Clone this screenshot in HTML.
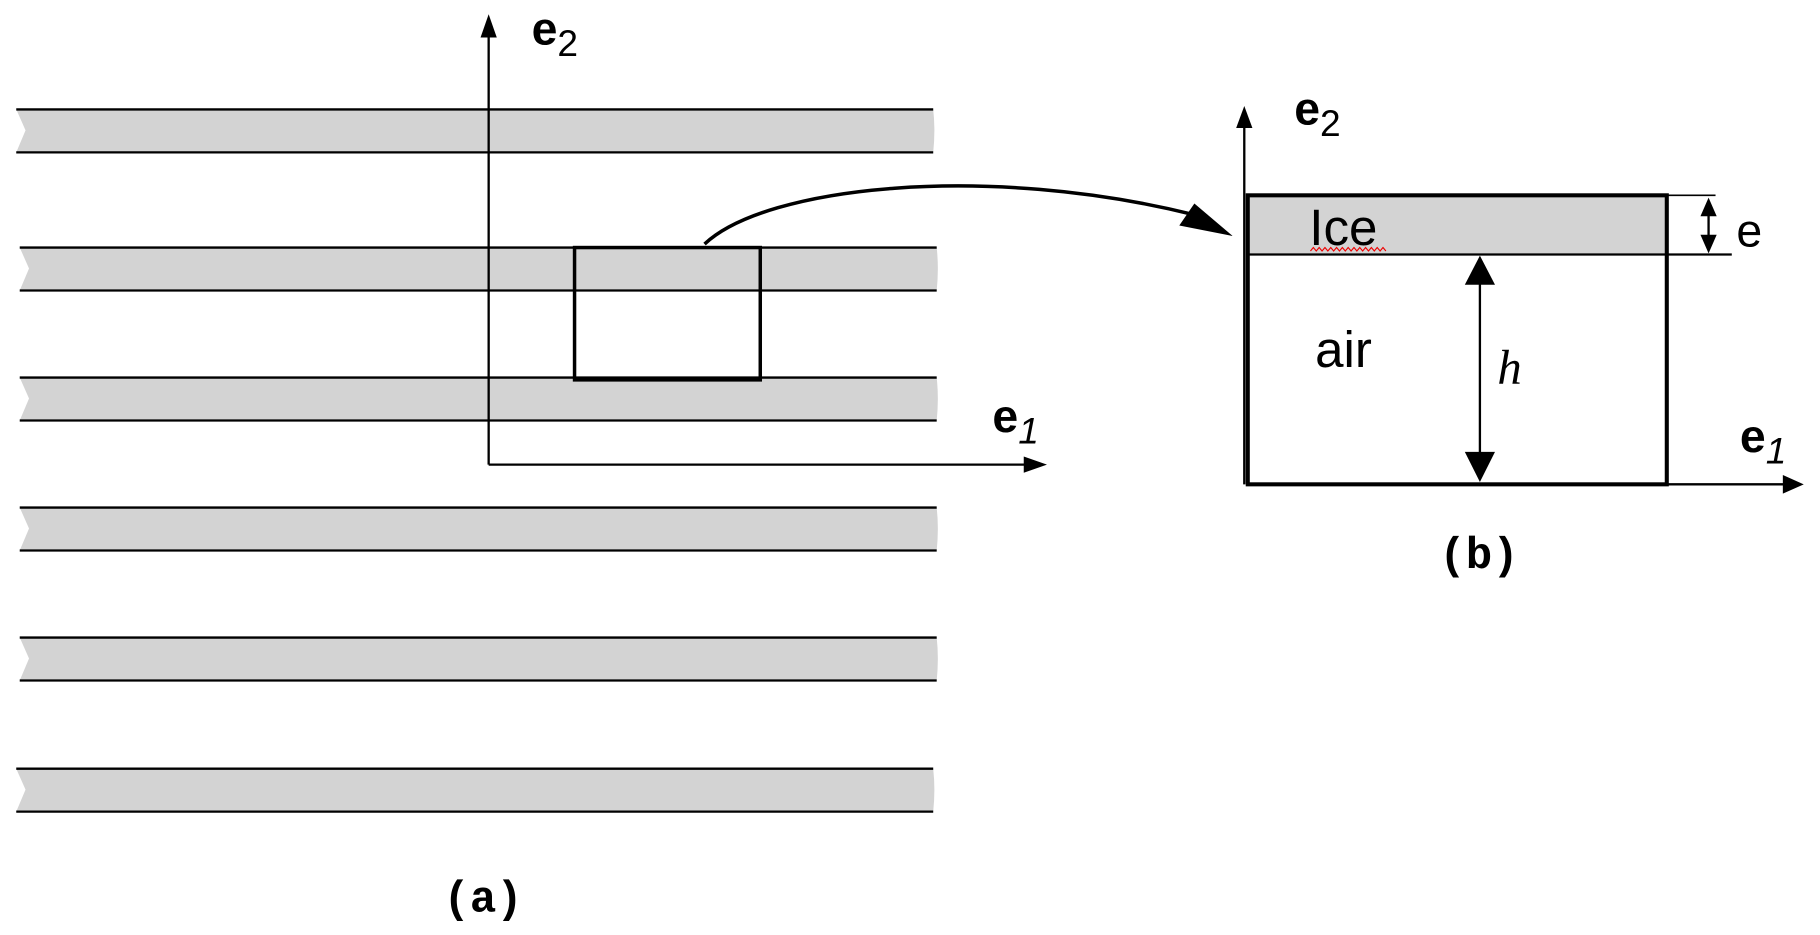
<!DOCTYPE html>
<html><head><style>html,body{margin:0;padding:0;background:#fff}svg{display:block}</style></head><body>
<svg width="1820" height="935" viewBox="0 0 1568 805" xmlns="http://www.w3.org/2000/svg">
<g stroke="#000" stroke-width="2">
<g id="s">
<path d="M14,94 L804,94 Q806,112 804,131 L14,131 L22,112 z" fill="#d3d3d3" stroke="none"/>
<line x1="14" y1="94" x2="804" y2="94"/><line x1="14" y1="131" x2="804" y2="131"/>
</g>
<use href="#s" transform="translate(3,119)"/>
<use href="#s" transform="translate(3,231)"/>
<use href="#s" transform="translate(3,343)"/>
<use href="#s" transform="translate(3,455)"/>
<use href="#s" transform="translate(0,568)"/>
<line x1="421" y1="400" x2="421" y2="16"/>
<path d="M414,32 L421,12 L428,32 z" fill="#000" stroke="none"/>
<line x1="421" y1="400" x2="886" y2="400"/>
<path d="M882,393 L902,400 L882,407 z" fill="#000" stroke="none"/>
<rect x="495" y="213" width="160" height="114" fill="none" stroke-width="3"/>
<path d="M607,210 C660,160 850,140 1030,185" fill="none" stroke-width="3"/>
<path d="M1016,194 L1029,175 L1062,203 z" fill="#000" stroke="none"/>
<rect x="1075" y="168" width="361" height="51" fill="#d3d3d3" stroke="none"/>
<rect x="1075" y="168" width="361" height="249" fill="none" stroke-width="3.5"/>
<line x1="1075" y1="219" x2="1492" y2="219" stroke-width="2"/>
<line x1="1436" y1="168" x2="1478" y2="168" stroke-width="1.5"/>
<line x1="1472" y1="178" x2="1472" y2="210"/>
<path d="M1465,186 L1472,170 L1479,186 z M1465,202 L1472,218 L1479,202 z" fill="#000" stroke="none"/>
<line x1="1072" y1="417" x2="1072" y2="96"/>
<path d="M1065,110 L1072,91 L1079,110 z" fill="#000" stroke="none"/>
<line x1="1436" y1="417" x2="1540" y2="417"/>
<path d="M1536,409 L1554,417 L1536,425 z" fill="#000" stroke="none"/>
<line x1="1275" y1="240" x2="1275" y2="395"/>
<path d="M1262,245 L1275,220 L1288,245 z M1262,389 L1275,415 L1288,389 z" fill="#000" stroke="none"/>
</g>
<g font-family="Liberation Sans, sans-serif">
<text x="458" y="38" font-size="40" font-weight="bold">e<tspan font-size="32" font-weight="normal" dy="10">2</tspan></text>
<text x="855" y="372" font-size="40" font-weight="bold">e<tspan font-size="32" font-weight="normal" font-style="italic" dy="10">1</tspan></text>
<text x="1115" y="107" font-size="40" font-weight="bold">e<tspan font-size="32" font-weight="normal" dy="10">2</tspan></text>
<text x="1499" y="389" font-size="40" font-weight="bold">e<tspan font-size="32" font-weight="normal" font-style="italic" dy="10">1</tspan></text>
<text x="1128" y="211" font-size="44">Ice</text>
<text x="1133" y="316" font-size="44">air</text>
<text x="1496" y="212" font-size="40">e</text>
</g>
<path d="M1129,216 l2.5,-3 l2.5,3 l2.5,-3 l2.5,3 l2.5,-3 l2.5,3 l2.5,-3 l2.5,3 l2.5,-3 l2.5,3 l2.5,-3 l2.5,3 l2.5,-3 l2.5,3 l2.5,-3 l2.5,3 l2.5,-3 l2.5,3 l2.5,-3 l2.5,3 l2.5,-3 l2.5,3 l2.5,-3 l2.5,3 l2.5,-3 l2.5,3" fill="none" stroke="#e00" stroke-width="1"/>
<text x="1290" y="330" font-family="Liberation Serif, serif" font-style="italic" font-size="42">h</text>
<text x="382" y="785" font-family="Liberation Mono, monospace" font-weight="bold" font-size="38">(a)</text>
<text x="1240" y="489" font-family="Liberation Mono, monospace" font-weight="bold" font-size="38">(b)</text>
</svg>
</body></html>
